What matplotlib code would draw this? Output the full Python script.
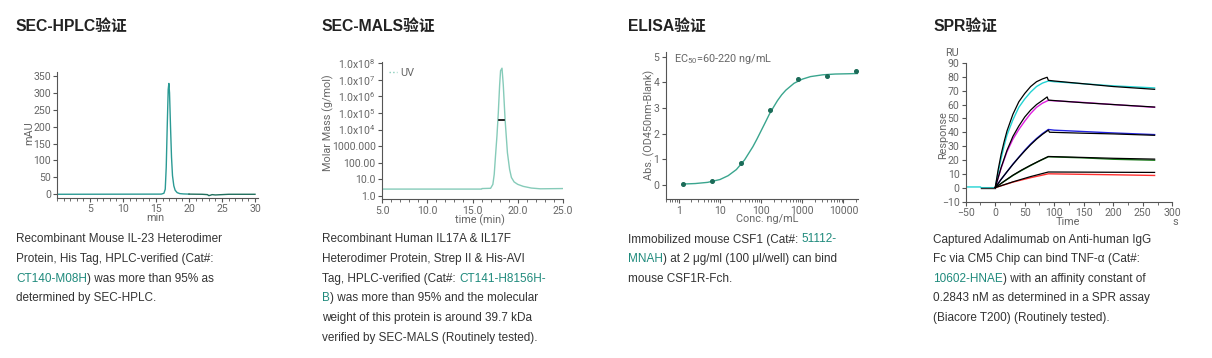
import numpy as np
import matplotlib
matplotlib.use("Agg")
import matplotlib.pyplot as plt
from matplotlib.ticker import MultipleLocator, LogLocator, NullFormatter
from matplotlib.lines import Line2D

# ---- data ----
# SEC-HPLC
hplc_t1 = [0, 15.8, 16.2, 16.4, 16.55, 16.7, 16.85, 16.95, 17.05, 17.2, 17.35, 17.5, 17.7, 17.9, 18.2, 18.6, 19.2, 20.0]
hplc_y1 = [0, 0.5, 3, 15, 80, 200, 310, 328, 300, 200, 110, 55, 25, 12, 5, 2, 1, 0.5]
hplc_t2 = [20.0, 22.0, 22.8, 23.0, 23.2, 23.5, 24.0, 25.0, 26.0, 30.0]
hplc_y2 = [0.5, 0, -1, -4, -3, -1, -2, -1, 0, 0]

# SEC-MALS (UV trace on molar mass axis + molar mass of the peak)
mals_t = [5.0, 16.0, 16.05, 17.0, 17.25, 17.4, 17.55, 17.7, 17.85, 18.0, 18.1, 18.26,
          18.4, 18.6, 18.86, 19.1, 19.3, 19.6, 20.0, 20.6, 21.5, 22.5, 25.0]
mals_uv = [2.6, 2.6, 2.8, 2.9, 5, 20, 300, 4000, 1e5, 5e6, 3.5e7, 5e7,
           5e6, 4e4, 400, 40, 13, 7, 5, 3.8, 3.0, 2.7, 2.8]
mals_mm_t = [17.95, 18.45]
mals_mm = [39700, 39700]
mals_ticks = [1, 10, 100, 1000, 1e4, 1e5, 1e6, 1e7, 1e8]
mals_ticklabels = ['1.0', '10.0', '100.00', '1000.000', '1.0x10$^{4}$', '1.0x10$^{5}$',
                   '1.0x10$^{6}$', '1.0x10$^{7}$', '1.0x10$^{8}$']

# ELISA
elisa_conc = [1.28, 6.4, 32, 160, 800, 4000, 20000]
elisa_abs = [0.03, 0.15, 0.84, 2.92, 4.12, 4.25, 4.43]
fit_conc = [1.26, 2.51, 5.01, 10, 15.8, 25.1, 39.8, 63.1, 79.4, 100, 126, 158, 200, 251,
            316, 398, 631, 1000, 1585, 3162, 6310, 12589, 22000]
fit_abs = [0.034, 0.054, 0.10, 0.21, 0.36, 0.60, 0.98, 1.49, 1.79, 2.11, 2.43, 2.75, 3.03,
           3.29, 3.51, 3.69, 3.96, 4.12, 4.22, 4.29, 4.32, 4.33, 4.34]

# SPR sensorgrams (data) and fits
spr_base_t = [-50, -25, -24, 0]
spr_base_y = [0.5, 0.5, 0, 0]
cyan_t = [0, 5, 10, 15, 20, 30, 40, 50, 60, 70, 80, 90, 100, 150, 200, 270]
cyan_y = [0, 11, 21, 30, 38, 49, 58, 64, 69, 73, 75.5, 77, 76.5, 75, 73.5, 72]
cyanfit_t = [0, 5, 10, 15, 20, 30, 40, 50, 60, 70, 80, 88, 90, 100, 150, 200, 270]
cyanfit_y = [0, 13, 24, 33, 41, 53, 62, 68, 73, 76.5, 78.5, 79.7, 77.5, 77, 75, 73, 71]
mag_t = [0, 10, 20, 30, 40, 50, 60, 70, 80, 90, 100, 150, 200, 270]
mag_y = [0, 14, 26, 35, 42, 48, 53.5, 58, 61, 63, 62.7, 61.5, 60, 58]
magfit_t = [0, 10, 20, 30, 40, 50, 60, 70, 80, 88, 90, 150, 200, 270]
magfit_y = [0, 14.5, 27, 37, 44.5, 51, 56, 60, 63, 65.5, 63.2, 61.3, 60, 58.2]
blue_t = [0, 10, 20, 30, 40, 50, 60, 70, 80, 90, 100, 150, 200, 270]
blue_y = [0, 6, 11.5, 17, 22, 27, 31.5, 35.5, 39, 42, 41.5, 40.5, 39.5, 38.3]
bluefit_t = [0, 10, 20, 30, 40, 50, 60, 70, 80, 90, 92, 150, 200, 270]
bluefit_y = [0, 6, 11.5, 16.8, 21.8, 26.5, 31, 35, 38.5, 41.5, 40, 39.3, 38.8, 37.8]
green_t = [0, 15, 30, 45, 60, 75, 90, 150, 200, 270]
green_y = [0, 4.5, 8.8, 12.5, 16, 19.3, 22.3, 21.5, 20.5, 19.8]
greenfit_t = [0, 15, 30, 45, 60, 75, 90, 150, 200, 270]
greenfit_y = [0, 4.6, 9, 12.8, 16.2, 19.4, 22.5, 21.8, 21.2, 20.6]
red_t = [0, 30, 60, 90, 150, 200, 270]
red_y = [0, 4, 7.2, 10, 9.6, 9.3, 8.8]
redfit_t = [0, 30, 60, 90, 150, 200, 270]
redfit_y = [0, 4.2, 8, 11.3, 11.2, 11.1, 11.0]

titles = ['SEC-HPLC验证', 'SEC-MALS验证', 'ELISA验证', 'SPR验证']

TEAL = '#1f8a7c'
DARK = '#333333'
captions = [
    [[('Recombinant Mouse IL-23 Heterodimer', DARK)],
     [('Protein, His Tag, HPLC-verified (Cat#:', DARK)],
     [('CT140-M08H', TEAL), (') was more than 95% as', DARK)],
     [('determined by SEC-HPLC.', DARK)]],
    [[('Recombinant Human IL17A & IL17F', DARK)],
     [('Heterodimer Protein, Strep II & His-AVI', DARK)],
     [('Tag, HPLC-verified (Cat#: ', DARK), ('CT141-H8156H-', TEAL)],
     [('B', TEAL), (') was more than 95% and the molecular', DARK)],
     [('weight of this protein is around 39.7 kDa', DARK)],
     [('verified by SEC-MALS (Routinely tested).', DARK)]],
    [[('Immobilized mouse CSF1 (Cat#: ', DARK), ('51112-', TEAL)],
     [('MNAH', TEAL), (') at 2 μg/ml (100 μl/well) can bind', DARK)],
     [('mouse CSF1R-Fch.', DARK)]],
    [[('Captured Adalimumab on Anti-human IgG', DARK)],
     [('Fc via CM5 Chip can bind TNF-α (Cat#:', DARK)],
     [('10602-HNAE', TEAL), (') with an affinity constant of', DARK)],
     [('0.2843 nM as determined in a SPR assay', DARK)],
     [('(Biacore T200) (Routinely tested).', DARK)]],
]

# ---- figure ----
plt.rcParams['font.family'] = ['Roboto', 'DejaVu Sans']
plt.rcParams['mathtext.fontset'] = 'custom'
plt.rcParams['mathtext.rm'] = 'Roboto'
plt.rcParams['mathtext.it'] = 'Roboto:italic'
plt.rcParams['mathtext.bf'] = 'Roboto:bold'

W, H = 1212, 358
fig = plt.figure(figsize=(W / 100, H / 100), dpi=100)
fig.patch.set_facecolor('white')

AXC = '#555555'
LBL = '#666666'
TFS = 7.6


def ax_px(x0, y0, x1, y1):
    return fig.add_axes([x0 / W, 1 - y1 / H, (x1 - x0) / W, (y1 - y0) / H])


def style(ax):
    for s in ['top', 'right']:
        ax.spines[s].set_visible(False)
    for s in ['left', 'bottom']:
        ax.spines[s].set_color(AXC)
        ax.spines[s].set_linewidth(0.8)
    ax.tick_params(which='major', length=3, width=0.8, color=AXC, labelsize=TFS, labelcolor=LBL, pad=1.5)
    ax.tick_params(which='minor', length=2, width=0.6, color=AXC)
    ax.patch.set_alpha(0)


def ftext(x, y, s, **kw):
    kw.setdefault('fontsize', 7.8)
    kw.setdefault('color', LBL)
    kw.setdefault('ha', 'center')
    kw.setdefault('va', 'center')
    return fig.text(x / W, 1 - y / H, s, **kw)


# SEC-HPLC
ax1 = ax_px(57, 71.6, 258.3, 198)
ax1.plot(hplc_t1, hplc_y1, color='#2b9a94', lw=1.0)
ax1.plot(hplc_t2, hplc_y2, color='#1f6e5c', lw=1.0)
ax1.set_xlim(0, 30.5)
ax1.set_ylim(-11, 363)
ax1.set_xticks([5, 10, 15, 20, 25, 30])
ax1.xaxis.set_minor_locator(MultipleLocator(1))
ax1.set_yticks(range(0, 351, 50))
style(ax1)
ftext(155, 218, 'min')
ftext(29, 133, 'mAU', rotation=90)

# SEC-MALS
ax2 = ax_px(382, 61.7, 563, 199.3)
ax2.set_yscale('log')
ax2.plot(mals_t, mals_uv, color='#86cbb9', lw=1.0)
ax2.plot(mals_mm_t, mals_mm, color='black', lw=1.2)
ax2.set_xlim(5, 25)
ax2.set_ylim(0.63, 1.23e8)
ax2.set_xticks([5, 10, 15, 20, 25])
ax2.set_xticklabels(['5.0', '10.0', '15.0', '20.0', '25.0'])
ax2.xaxis.set_minor_locator(MultipleLocator(1))
ax2.set_yticks(mals_ticks)
ax2.set_yticklabels(mals_ticklabels)
ax2.yaxis.set_minor_locator(LogLocator(base=10, subs=np.arange(2, 10)))
ax2.yaxis.set_minor_formatter(NullFormatter())
style(ax2)
ax2.legend(handles=[Line2D([], [], color='#86cbb9', ls=':', lw=1.0)], labels=['UV'],
           loc='upper left', frameon=False, fontsize=7.8, handlelength=0.8, handletextpad=0.3,
           borderaxespad=0.2, labelcolor=LBL)
ftext(480, 220, 'time (min)')
ftext(328, 123, 'Molar Mass (g/mol)', rotation=90)

# ELISA
ax3 = ax_px(665.7, 51.7, 858.3, 199.3)
ax3.set_xscale('log')
ax3.plot(fit_conc, fit_abs, color='#3aa58e', lw=1.0)
ax3.plot(elisa_conc, elisa_abs, 'o', color='#1b6b58', ms=2.6)
ax3.set_xlim(0.48, 23000)
ax3.set_ylim(-0.56, 5.19)
ax3.set_xticks([1, 10, 100, 1000, 10000])
ax3.set_xticklabels(['1', '10', '100', '1000', '10000'])
ax3.xaxis.set_minor_locator(LogLocator(base=10, subs=np.arange(2, 10)))
ax3.xaxis.set_minor_formatter(NullFormatter())
ax3.set_yticks(range(0, 6))
style(ax3)
ftext(674, 59, 'EC$_{50}$=60-220 ng/mL', ha='left', fontsize=7.8)
ftext(767, 219, 'Conc. ng/mL')
ftext(649, 125, 'Abs. (OD450nm-Blank)', rotation=90)

# SPR
ax4 = ax_px(965.7, 63, 1172.3, 201.5)
ax4.plot(spr_base_t, spr_base_y, color='#22d3d3', lw=1.0)
ax4.plot([-24, 0], [0, 0], color='#333333', lw=1.0)
for t, y, c in [(cyan_t, cyan_y, '#22d3d3'), (mag_t, mag_y, '#e020e0'), (blue_t, blue_y, '#2323e0'),
                (green_t, green_y, '#1a7a1a'), (red_t, red_y, '#ff3030')]:
    ax4.plot(t, y, color=c, lw=1.0)
for t, y in [(cyanfit_t, cyanfit_y), (magfit_t, magfit_y), (bluefit_t, bluefit_y),
             (greenfit_t, greenfit_y), (redfit_t, redfit_y)]:
    ax4.plot(t, y, color='black', lw=0.9)
ax4.set_xlim(-50, 300)
ax4.set_ylim(-10, 90)
ax4.set_xticks(range(-50, 301, 50))
ax4.xaxis.set_minor_locator(MultipleLocator(25))
ax4.set_yticks(range(-10, 91, 10))
ax4.set_yticklabels([str(v).replace('-', '\u2212') for v in range(-10, 91, 10)])
style(ax4)
ftext(1068, 221.5, 'Time')
ftext(1175.5, 222, 's')
ftext(943, 135, 'Response', rotation=90)
ftext(952.5, 53, 'RU')

# titles and captions
CAP_FAM = ['Liberation Sans', 'Noto Sans CJK SC', 'DejaVu Sans']
col_x = [16, 322, 628, 933]
for x, t in zip(col_x, titles):
    fig.text(x / W, 1 - 30.5 / H, t, fontsize=11.3, fontweight='bold', color='#222222',
             family=CAP_FAM, ha='left', va='baseline')

renderer = fig.canvas.get_renderer()
CFS = 8.5


def text_w(s):
    t = fig.text(0, 0, s, fontsize=CFS, family=CAP_FAM)
    w = t.get_window_extent(renderer=renderer).width
    t.remove()
    return w


space_w = text_w('a a') - text_w('aa')

for x0, lines in zip(col_x, captions):
    for i, parts in enumerate(lines):
        x = x0
        y = 242.5 + i * 19.6
        for s, c in parts:
            fig.text(x / W, 1 - y / H, s, fontsize=CFS, family=CAP_FAM, color=c,
                     ha='left', va='baseline')
            stripped = s.rstrip()
            x += text_w(stripped) + space_w * (len(s) - len(stripped))

fig.savefig('out.png', dpi=100, facecolor='white')
